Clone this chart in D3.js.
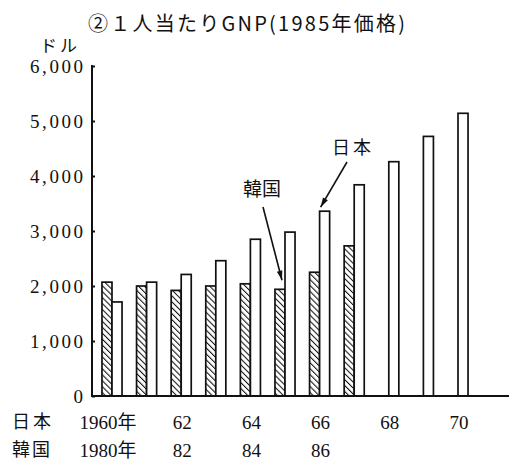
<!DOCTYPE html>
<html>
<head>
<meta charset="utf-8">
<script src="https://cdn.jsdelivr.net/npm/d3@7"></script>
<style>
  body { margin: 0; background: #fff; }
  svg { display: block; }
  .num { font-family: "Liberation Serif", "Noto Sans CJK JP", serif; font-size: 19px; fill: #111; }
  .jp { font-family: "Noto Sans CJK JP", sans-serif; fill: #111; }
</style>
</head>
<body>
<svg width="509" height="464"></svg>
<script>
const svg = d3.select("svg");

// data
const japanYears = [1960, 1961, 1962, 1963, 1964, 1965, 1966, 1967, 1968, 1969, 1970];
const japanGNP = [1710, 2070, 2210, 2460, 2850, 2980, 3360, 3840, 4260, 4720, 5140];
const koreaYears = [1980, 1981, 1982, 1983, 1984, 1985, 1986, 1987];
const koreaGNP = [2070, 2000, 1920, 2000, 2040, 1940, 2250, 2730];
const japanTickLabels = ["1960年", "62", "64", "66", "68", "70"];
const koreaTickLabels = ["1980年", "82", "84", "86"];
const yTicks = [0, 1000, 2000, 3000, 4000, 5000, 6000];

const axisX = 92, baseY = 396, topY = 66;

// one slot per year index, hatched (Korea) on the left half, white (Japan) on the right
const x = d3.scaleBand()
    .domain(d3.range(japanYears.length))
    .range([94.7, 475.3])
    .paddingInner(0.42)
    .paddingOuter(0.21);
const y = d3.scaleLinear().domain([0, 6000]).range([baseY, topY]);
const half = x.bandwidth() / 2;

// hatch pattern
const defs = svg.append("defs");
defs.append("pattern")
    .attr("id", "hatch")
    .attr("patternUnits", "userSpaceOnUse")
    .attr("width", 4.2).attr("height", 4.2)
    .attr("patternTransform", "rotate(-45)")
    .append("line")
    .attr("x1", 0).attr("y1", 0).attr("x2", 0).attr("y2", 4.2)
    .attr("stroke", "#111").attr("stroke-width", 2.1);

// title
svg.append("text")
    .attr("class", "jp")
    .attr("x", 88).attr("y", 31)
    .style("font-size", "20px")
    .attr("textLength", 317)
    .attr("lengthAdjust", "spacing")
    .text("②１人当たりGNP(1985年価格)");

svg.append("text")
    .attr("class", "jp")
    .attr("x", 40).attr("y", 52)
    .style("font-size", "17px")
    .attr("letter-spacing", 3)
    .text("ドル");

// y axis
const yAxis = svg.append("g")
    .attr("transform", "translate(" + axisX + ",0)")
    .call(d3.axisRight(y).tickValues(yTicks).tickSize(3).tickFormat(""));
yAxis.select(".domain").attr("d", "M0," + (topY - 1) + "V" + baseY)
    .attr("stroke", "#111").attr("stroke-width", 2);
yAxis.selectAll(".tick line").attr("stroke", "#111").attr("stroke-width", 2);

svg.selectAll(".ylab")
    .data(yTicks)
    .enter().append("text")
    .attr("class", "num ylab")
    .attr("x", 83)
    .attr("y", d => y(d) + 6.5)
    .attr("text-anchor", "end")
    .attr("textLength", d => d === 0 ? null : 53)
    .attr("lengthAdjust", "spacing")
    .text(d => d === 0 ? "0" : d3.format(",")(d));

// korea bars (hatched)
svg.selectAll(".korea")
    .data(koreaGNP)
    .enter().append("rect")
    .attr("class", "korea")
    .attr("x", (d, i) => x(i))
    .attr("y", d => y(d))
    .attr("width", half)
    .attr("height", d => baseY - y(d))
    .attr("fill", "url(#hatch)")
    .attr("stroke", "#111")
    .attr("stroke-width", 1.7);

// japan bars (white)
svg.selectAll(".japan")
    .data(japanGNP)
    .enter().append("rect")
    .attr("class", "japan")
    .attr("x", (d, i) => x(i) + half)
    .attr("y", d => y(d))
    .attr("width", half)
    .attr("height", d => baseY - y(d))
    .attr("fill", "#fff")
    .attr("stroke", "#111")
    .attr("stroke-width", 1.7);

// baseline
svg.append("line")
    .attr("x1", axisX - 1).attr("x2", 509)
    .attr("y1", baseY).attr("y2", baseY)
    .attr("stroke", "#111").attr("stroke-width", 2.2);

// x labels
svg.append("text").attr("class", "jp").attr("x", 12).attr("y", 428)
    .style("font-size", "18px").attr("letter-spacing", 3).text("日本");
svg.append("text").attr("class", "jp").attr("x", 12).attr("y", 456)
    .style("font-size", "18px").attr("letter-spacing", 2).text("韓国");

svg.selectAll(".jlab")
    .data(japanTickLabels)
    .enter().append("text")
    .attr("class", "num jlab")
    .attr("x", (d, i) => x(i * 2) + x.bandwidth() / 2 + (i === 0 ? -4 : 1))
    .attr("y", 429)
    .attr("text-anchor", "middle")
    .text(d => d);

svg.selectAll(".klab")
    .data(koreaTickLabels)
    .enter().append("text")
    .attr("class", "num klab")
    .attr("x", (d, i) => x(i * 2) + x.bandwidth() / 2 + (i === 0 ? -4 : 1))
    .attr("y", 457)
    .attr("text-anchor", "middle")
    .text(d => d);

// annotations
defs.append("marker")
    .attr("id", "arrow")
    .attr("viewBox", "0 0 12 10")
    .attr("refX", 12).attr("refY", 5)
    .attr("markerWidth", 11).attr("markerHeight", 8)
    .attr("markerUnits", "userSpaceOnUse")
    .attr("orient", "auto")
    .append("path")
    .attr("d", "M0,1.5 L12,5 L0,8.5 Z")
    .attr("fill", "#111");

const koreaIdx = 5, japanIdx = 6;
svg.append("text").attr("class", "jp")
    .attr("x", 243).attr("y", 196)
    .style("font-size", "19px").text("韓国");
svg.append("line")
    .attr("x1", 263).attr("y1", 207)
    .attr("x2", x(koreaIdx) + half * 0.7).attr("y2", y(koreaGNP[koreaIdx]) - 9)
    .attr("stroke", "#111").attr("stroke-width", 1.6)
    .attr("marker-end", "url(#arrow)");

svg.append("text").attr("class", "jp")
    .attr("x", 332).attr("y", 154)
    .style("font-size", "18px").attr("letter-spacing", 3).text("日本");
svg.append("line")
    .attr("x1", 347).attr("y1", 162)
    .attr("x2", x(japanIdx) + half * 1.1).attr("y2", y(japanGNP[japanIdx]) - 4)
    .attr("stroke", "#111").attr("stroke-width", 1.6)
    .attr("marker-end", "url(#arrow)");
</script>
</body>
</html>
